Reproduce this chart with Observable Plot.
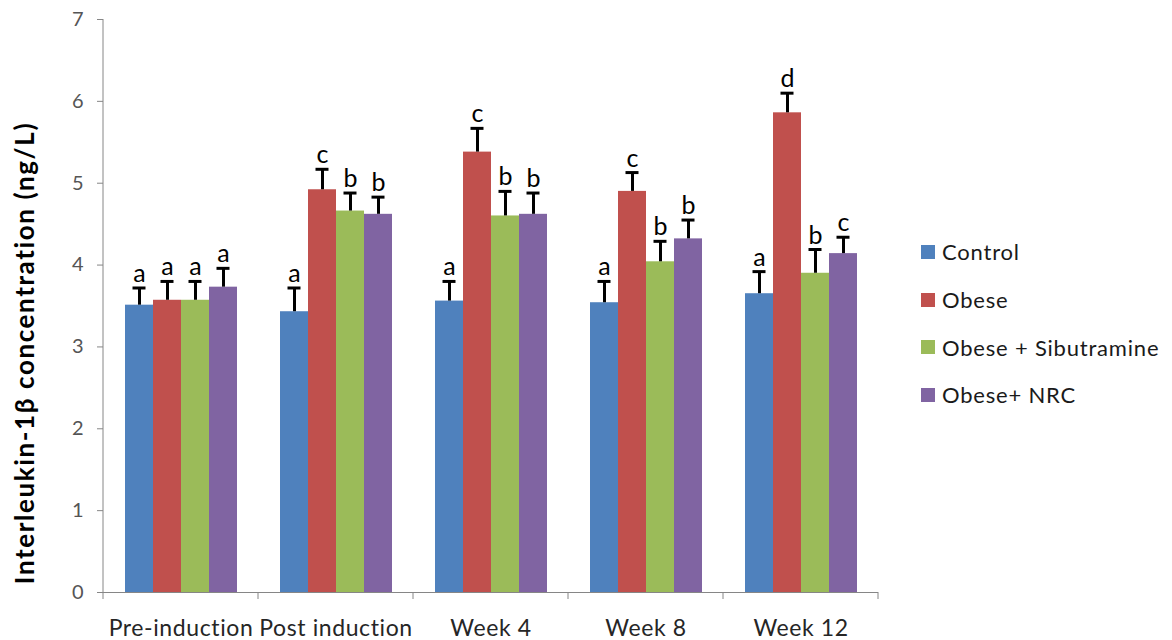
<!DOCTYPE html>
<html>
<head>
<meta charset="utf-8">
<script src="https://cdn.jsdelivr.net/npm/d3@7"></script>
<script src="https://cdn.jsdelivr.net/npm/@observablehq/plot@0.6"></script>
<style>
  html, body { margin: 0; padding: 0; background: #fff; }
  #wrap { position: relative; width: 1172px; height: 640px; font-family: Lato, "Open Sans", sans-serif; }
  #legend { position: absolute; left: 921px; top: 228px; }
  .row { display: flex; align-items: center; height: 47.7px; font-size: 22px; letter-spacing: 0.8px; color: #1a1a1a; }
  .sw { width: 14px; height: 14px; margin-right: 7px; }
  .fxlab text { letter-spacing: 0.6px; }
</style>
</head>
<body>
<div id="wrap"><div id="legend"></div></div>
<script>
// Time points and treatment groups
const categories = ["Pre-induction", "Post induction", "Week 4", "Week 8", "Week 12"];
const series = ["Control", "Obese", "Obese + Sibutramine", "Obese+ NRC"];
const colors = ["#4F81BD", "#C0504D", "#9BBB59", "#8064A2"];

// Mean IL-1β (ng/L) per group, one value per time point
const control = [3.51, 3.43, 3.56, 3.54, 3.65];
const obese = [3.57, 4.92, 5.38, 4.90, 5.86];
const sibutramine = [3.57, 4.66, 4.60, 4.04, 3.90];
const nrc = [3.73, 4.62, 4.62, 4.32, 4.14];

// Upper error (SE) per group
const controlErr = [0.21, 0.29, 0.24, 0.26, 0.27];
const obeseErr = [0.23, 0.25, 0.29, 0.23, 0.24];
const sibutramineErr = [0.23, 0.22, 0.30, 0.25, 0.29];
const nrcErr = [0.23, 0.21, 0.26, 0.23, 0.20];

// Significance letters
const controlSig = ["a", "a", "a", "a", "a"];
const obeseSig = ["a", "c", "c", "c", "d"];
const sibutramineSig = ["a", "b", "b", "b", "b"];
const nrcSig = ["a", "b", "b", "b", "c"];

const yTicks = [0, 1, 2, 3, 4, 5, 6, 7];

const groups = [
  [control, controlErr, controlSig],
  [obese, obeseErr, obeseSig],
  [sibutramine, sibutramineErr, sibutramineSig],
  [nrc, nrcErr, nrcSig]
];

const data = [];
categories.forEach((cat, i) => {
  groups.forEach(([vals, errs, sigs], s) => {
    data.push({cat, series: series[s], value: vals[i], err: errs[i], top: vals[i] + errs[i], sig: sigs[i]});
  });
});

const chart = Plot.plot({
  width: 1172,
  height: 640,
  marginLeft: 103,
  marginRight: 294,
  marginTop: 19,
  marginBottom: 48,
  style: {fontFamily: "Lato, 'Open Sans', sans-serif", background: "#fff"},
  fx: {domain: categories, padding: 0, label: null, axis: null},
  x: {domain: series, paddingInner: 0, paddingOuter: 0.75, axis: null},
  y: {domain: [0, 7], label: null},
  color: {domain: series, range: colors},
  marks: [
    Plot.barY(data, {fx: "cat", x: "series", y: "value", fill: "series"}),
    Plot.ruleY([0], {stroke: "#868686", strokeWidth: 1}),
    Plot.ruleX(data, {fx: "cat", x: "series", y1: "value", y2: "top", stroke: "#000", strokeWidth: 3}),
    Plot.tickY(data, {fx: "cat", x: "series", y: "top", stroke: "#000", strokeWidth: 3, insetLeft: 7.5, insetRight: 7.5}),
    Plot.text(data, {fx: "cat", x: "series", y: "top", text: "sig", dy: -6, lineAnchor: "bottom", fontSize: 25, fill: "#000"}),
    Plot.axisY({ticks: yTicks, tickSize: 6, tickPadding: 14, stroke: "#868686", fill: "#555", fontSize: 20, label: null, tickFormat: d3.format("d")}),
    Plot.axisFx({anchor: "bottom", tickSize: 0, tickPadding: 27, fontSize: 23, fill: "#262626", label: null, className: "fxlab"})
  ]
});

// Axis line and category boundary ticks, positioned from the chart's scales
const svg = d3.select(chart);
const fx = chart.scale("fx");
const y = chart.scale("y");
const xLeft = fx.apply(categories[0]);
const y0 = y.apply(0), y7 = y.apply(7);
svg.append("line").attr("x1", xLeft).attr("x2", xLeft).attr("y1", y7).attr("y2", y0)
  .attr("stroke", "#868686").attr("stroke-width", 1);
const bounds = categories.map(c => fx.apply(c)).concat([fx.apply(categories[categories.length - 1]) + fx.bandwidth]);
svg.append("g").selectAll("line").data(bounds).join("line")
  .attr("x1", d => d).attr("x2", d => d).attr("y1", y0).attr("y2", y0 + 7)
  .attr("stroke", "#868686").attr("stroke-width", 1);

// Vertical y-axis title
svg.append("text")
  .attr("transform", `translate(34,353) rotate(-90)`)
  .attr("text-anchor", "middle")
  .attr("font-family", "Lato, 'Open Sans', sans-serif")
  .attr("font-weight", "bold")
  .attr("font-size", 26)
  .attr("letter-spacing", "1.6px")
  .attr("fill", "#000")
  .text("Interleukin-1β concentration (ng/L)");

const wrap = document.getElementById("wrap");
wrap.insertBefore(chart, wrap.firstChild);
chart.style.position = "absolute";
chart.style.left = "0";
chart.style.top = "0";

// Legend
const legend = d3.select("#legend");
series.forEach((s, i) => {
  const row = legend.append("div").attr("class", "row");
  row.append("div").attr("class", "sw").style("background", colors[i]);
  row.append("span").text(s);
});
</script>
</body>
</html>
